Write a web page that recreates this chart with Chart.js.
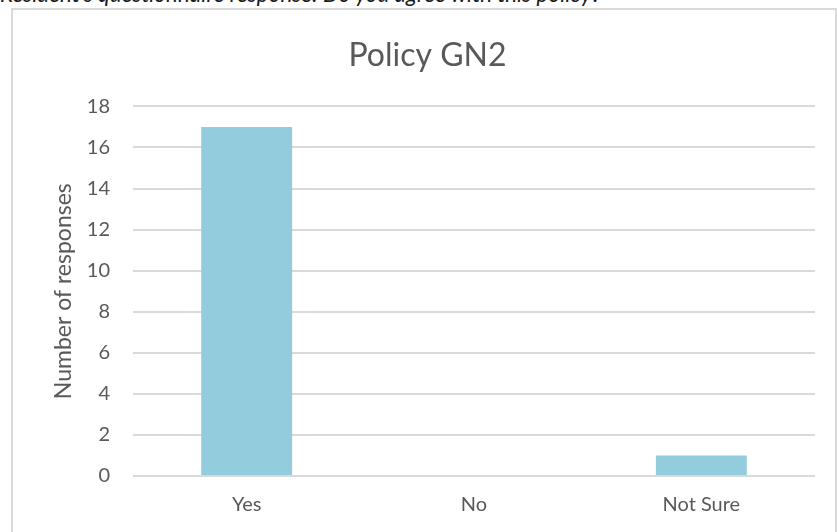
<!DOCTYPE html>
<html>
<head>
<meta charset="utf-8">
<title>Policy GN2</title>
<script src="https://cdn.jsdelivr.net/npm/chart.js@4"></script>
<style>
  html, body { margin: 0; padding: 0; background: #fff; overflow: hidden; }
  #wrap { position: relative; width: 837px; height: 532px; }
  #caption {
    position: absolute; left: 0; top: -17px;
    font: italic 22.5px Lato, "Open Sans", sans-serif; line-height: 22px;
    color: #1a1a1a; white-space: nowrap;
  }
  #frame {
    position: absolute; left: 11px; top: 8px; width: 822px; height: 540px;
    border: 2px solid #d9d9d9;
  }
  canvas { position: absolute; left: 0; top: 0; }
</style>
</head>
<body>
<div id="wrap">
  <div id="caption">Resident's questionnaire response: Do you agree with this policy?</div>
  <div id="frame"></div>
  <canvas id="chart" width="837" height="532"></canvas>
</div>
<script>
  // Survey answers and counts
  const categories = ['Yes', 'No', 'Not Sure'];
  const responses = [17, 0, 1];
  const yTicks = [0, 2, 4, 6, 8, 10, 12, 14, 16, 18];

  const textColor = '#595959';
  const gridColor = '#d9d9d9';
  const fontFamily = 'Lato, "Open Sans", sans-serif';

  const ctx = document.getElementById('chart').getContext('2d');
  const chart = new Chart(ctx, {
    type: 'bar',
    data: {
      labels: categories,
      datasets: [{
        label: 'Number of responses',
        data: responses,
        backgroundColor: '#93cddd',
        borderWidth: 0,
        barPercentage: 0.4,
        categoryPercentage: 1.0
      }]
    },
    options: {
      responsive: false,
      animation: false,
      layout: { padding: { left: 40, right: 22, top: 0, bottom: 0 } },
      plugins: {
        legend: { display: false },
        tooltip: { enabled: false },
        title: {
          display: true,
          text: 'Policy GN2',
          color: textColor,
          font: { family: fontFamily, size: 32, weight: 'normal' },
          padding: { top: 36, bottom: 32 }
        }
      },
      scales: {
        x: {
          grid: { display: false, drawTicks: false },
          border: { display: false },
          ticks: {
            color: textColor,
            padding: 17,
            font: { family: fontFamily, size: 20 }
          },
          afterFit: function(scale) { scale.height = 56; }
        },
        y: {
          min: 0,
          max: 18,
          afterBuildTicks: function(scale) {
            scale.ticks = yTicks.map(v => ({ value: v }));
          },
          grid: { color: gridColor, lineWidth: 2, drawTicks: false },
          border: { display: false },
          ticks: {
            color: textColor,
            padding: 23,
            font: { family: fontFamily, size: 20 }
          },
          title: {
            display: true,
            text: 'Number of responses',
            color: textColor,
            font: { family: fontFamily, size: 23 },
            padding: { top: 10, bottom: 0 }
          },
          afterFit: function(scale) { scale.width = 93; }
        }
      }
    }
  });
</script>
</body>
</html>
